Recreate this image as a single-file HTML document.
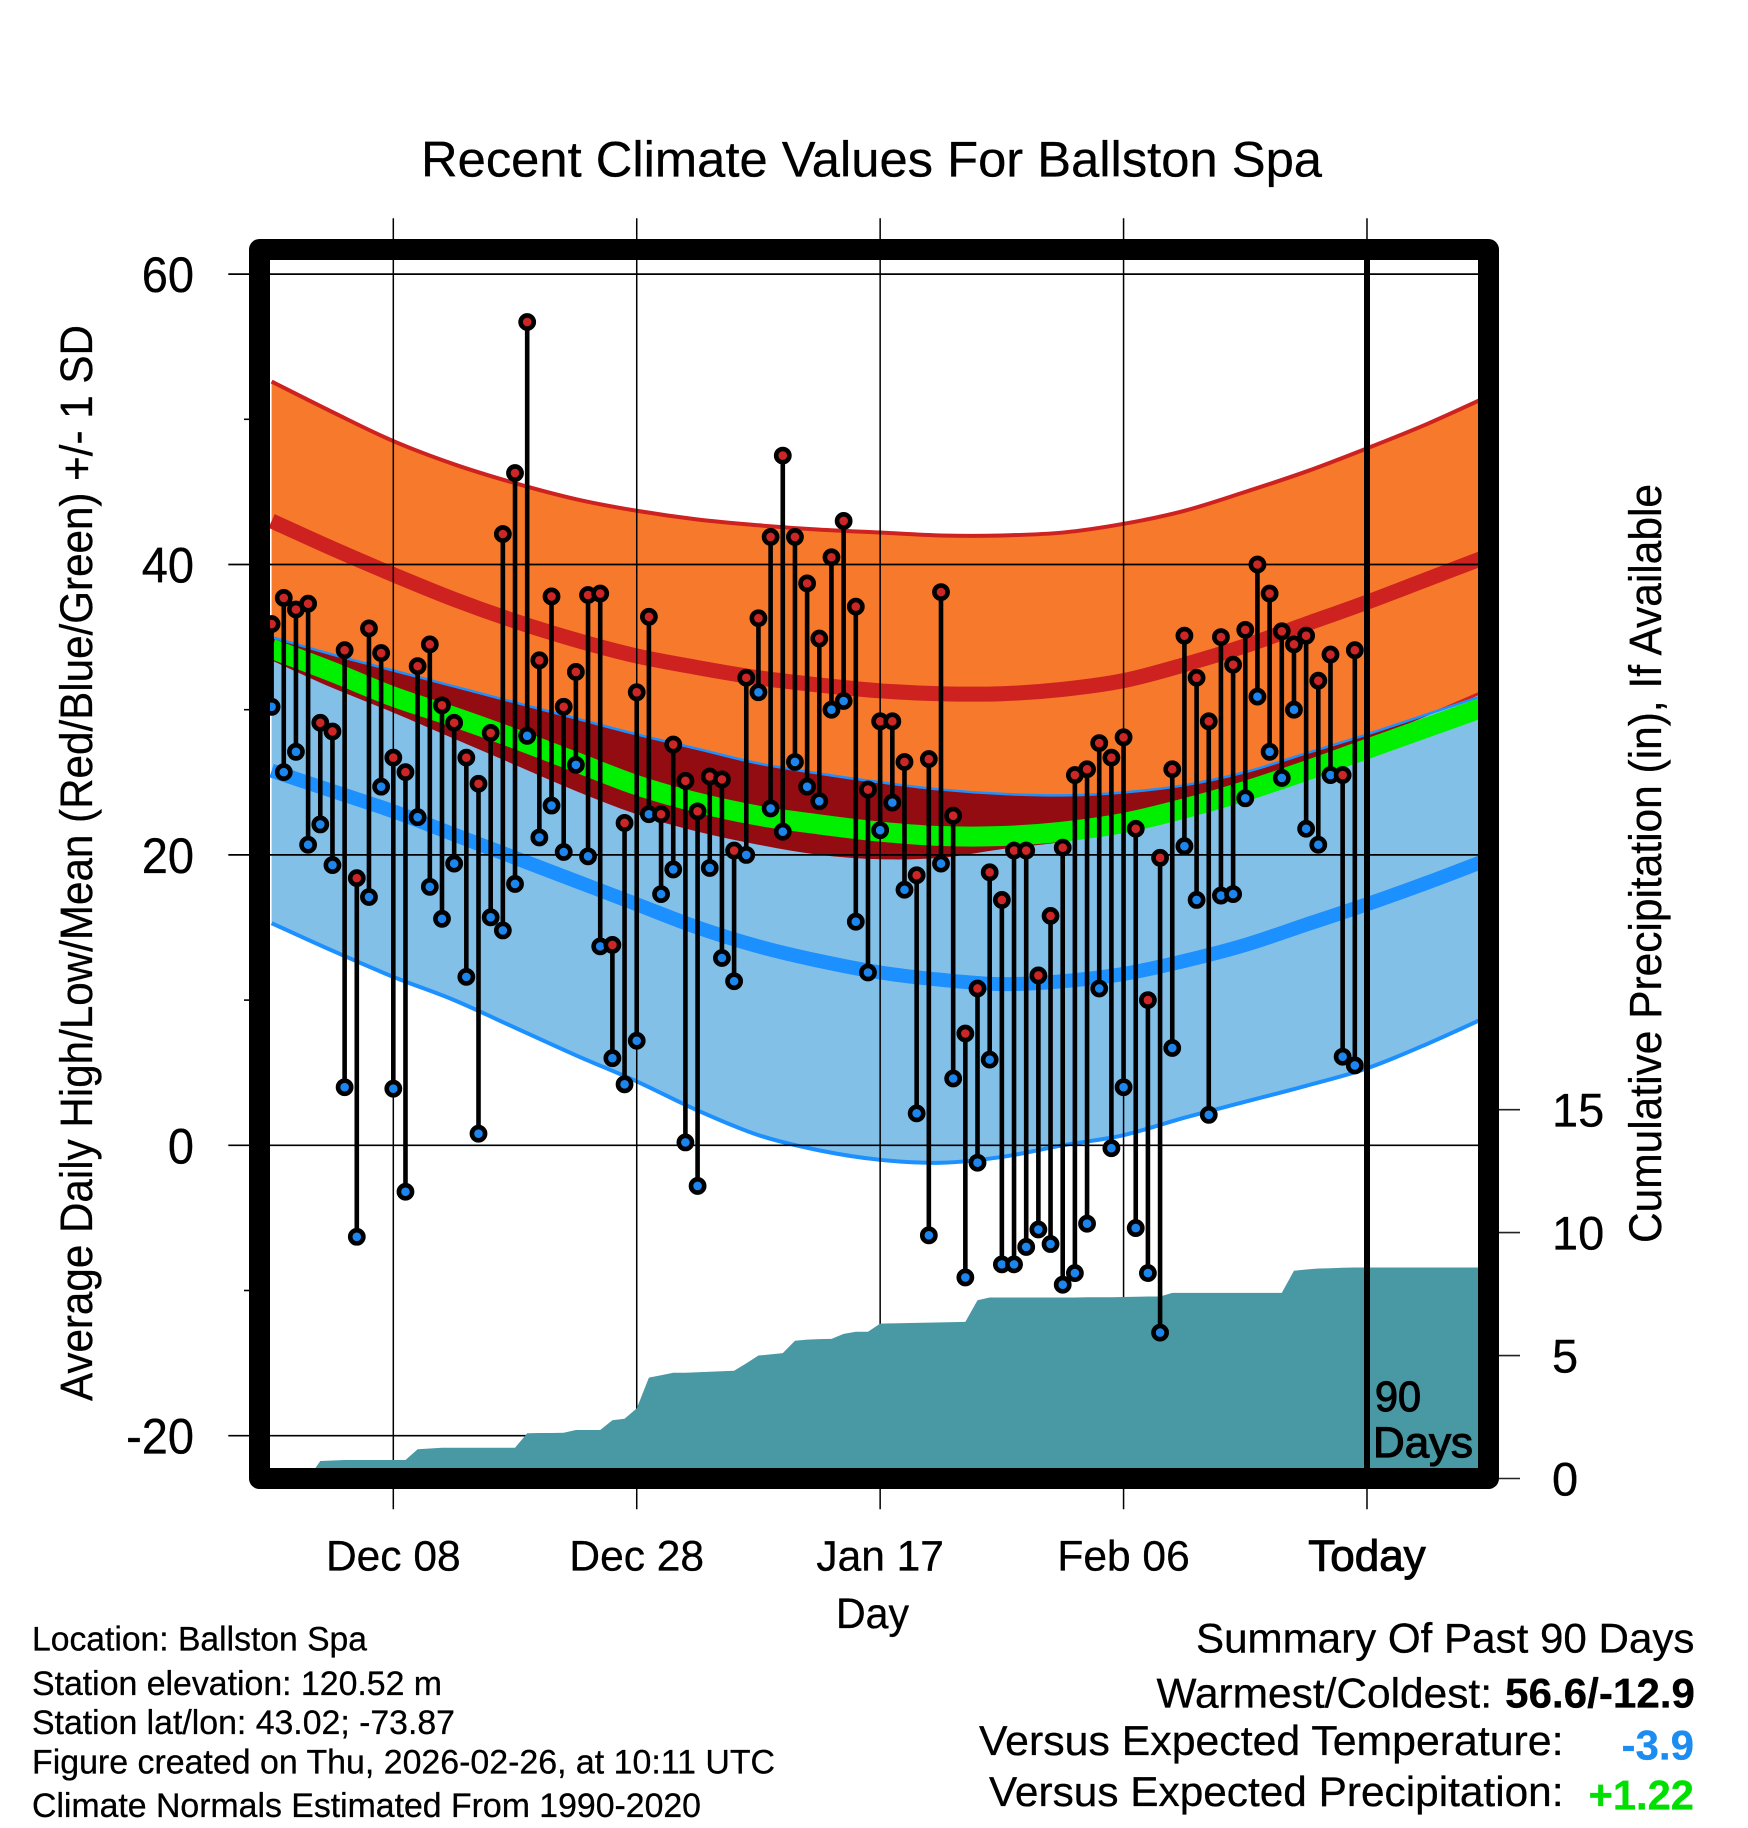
<!DOCTYPE html>
<html lang="en">
<head>
<meta charset="utf-8">
<title>Recent Climate Values For Ballston Spa</title>
<style>
html,body{margin:0;padding:0;background:#fff;}
svg{display:block;}
text{font-family:"Liberation Sans",Arial,sans-serif;fill:#000;stroke:#000;stroke-width:0.3;}
</style>
</head>
<body>
<svg id="chart" xmlns="http://www.w3.org/2000/svg" width="1748" height="1828" viewBox="0 0 1748 1828">
  <rect x="0" y="0" width="1748" height="1828" fill="#fff"/>
  <defs>
    <clipPath id="plot-clip"><rect x="270" y="260" width="1208.5" height="1208.5"/></clipPath>
    <clipPath id="low-band-clip"><path id="low-band-clip-path" d=""/></clipPath>
  </defs>

  <g id="fills" clip-path="url(#plot-clip)"></g>
  <g id="grid"></g>
  <g id="precip" clip-path="url(#plot-clip)"></g>
  <g id="marks"></g>
  <line x1="1367" x2="1367" y1="255" y2="1472" stroke="#000" stroke-width="6"/>
  <rect x="259.5" y="249.5" width="1229" height="1229" fill="none" stroke="#000" stroke-width="21" stroke-linejoin="round"/>
  <g id="labels"></g>

  <text x="421" y="176.5" font-size="50" textLength="901" lengthAdjust="spacingAndGlyphs">Recent Climate Values For Ballston Spa</text>
  <text transform="translate(92,1401) rotate(-90)" font-size="45" textLength="1076" lengthAdjust="spacingAndGlyphs">Average Daily High/Low/Mean (Red/Blue/Green) +/- 1 SD</text>
  <text transform="translate(1661,1243) rotate(-90)" font-size="45" textLength="759" lengthAdjust="spacingAndGlyphs">Cumulative Precipitation (in), If Available</text>
  <text x="836" y="1628" font-size="43" textLength="73" lengthAdjust="spacingAndGlyphs">Day</text>

  <text x="1375" y="1411" font-size="43" style="stroke-width:1.2" textLength="46" lengthAdjust="spacingAndGlyphs">90</text>
  <text x="1373" y="1457" font-size="43" style="stroke-width:1.2" textLength="100" lengthAdjust="spacingAndGlyphs">Days</text>

  <text x="32" y="1650.7" font-size="34" textLength="335" lengthAdjust="spacingAndGlyphs">Location: Ballston Spa</text>
  <text x="32" y="1695" font-size="34" textLength="410" lengthAdjust="spacingAndGlyphs">Station elevation: 120.52 m</text>
  <text x="32" y="1734" font-size="34" textLength="423" lengthAdjust="spacingAndGlyphs">Station lat/lon: 43.02; -73.87</text>
  <text x="32" y="1773.3" font-size="34" textLength="743" lengthAdjust="spacingAndGlyphs">Figure created on Thu, 2026-02-26, at 10:11 UTC</text>
  <text x="32" y="1817" font-size="34" textLength="669" lengthAdjust="spacingAndGlyphs">Climate Normals Estimated From 1990-2020</text>

  <text x="1196" y="1652.7" font-size="42" textLength="498.5" lengthAdjust="spacingAndGlyphs">Summary Of Past 90 Days</text>
  <text x="1156.5" y="1707.7" font-size="42" textLength="335.5" lengthAdjust="spacingAndGlyphs">Warmest/Coldest:</text>
  <text x="1505" y="1707.7" font-size="42" font-weight="700" textLength="190" lengthAdjust="spacingAndGlyphs">56.6/-12.9</text>
  <text x="979" y="1755" font-size="42" textLength="584.5" lengthAdjust="spacingAndGlyphs">Versus Expected Temperature:</text>
  <text x="1621.5" y="1759.3" font-size="42" font-weight="700" style="fill:#1C8CF0;stroke:#1C8CF0" textLength="72.5" lengthAdjust="spacingAndGlyphs">-3.9</text>
  <text x="989" y="1806" font-size="42" textLength="574.5" lengthAdjust="spacingAndGlyphs">Versus Expected Precipitation:</text>
  <text x="1588.5" y="1809.3" font-size="42" font-weight="700" style="fill:#00E000;stroke:#00E000" textLength="105.5" lengthAdjust="spacingAndGlyphs">+1.22</text>
</svg>

<script>
// Daily observed temperature extremes (degrees F), one value per day.
const dailyHighs = [35.9,37.7,36.9,37.3,29.1,28.5,34.1,18.4,35.6,33.9,26.7,25.7,33.0,34.5,30.3,29.1,26.7,24.9,28.4,42.1,46.3,56.7,33.4,37.8,30.2,32.6,37.9,38.0,13.8,22.2,31.2,36.4,22.8,27.6,25.1,23.0,25.4,25.2,20.3,32.2,36.3,41.9,47.5,41.9,38.7,34.9,40.5,43.0,37.1,24.5,29.2,29.2,26.4,18.6,26.6,38.1,22.7,7.7,10.8,18.8,16.9,20.3,20.3,11.7,15.8,20.5,25.5,25.9,27.7,26.7,28.1,21.8,10.0,19.8,25.9,35.1,32.2,29.2,35.0,33.1,35.5,40.0,38.0,35.4,34.5,35.1,32.0,33.8,25.5,34.1];
const dailyLows = [30.2,25.7,27.1,20.7,22.1,19.3,4.0,-6.3,17.1,24.7,3.9,-3.2,22.6,17.8,15.6,19.4,11.6,0.8,15.7,14.8,18.0,28.2,21.2,23.4,20.2,26.2,19.9,13.7,6.0,4.2,7.2,22.8,17.3,19.0,0.2,-2.8,19.1,12.9,11.3,20.0,31.2,23.2,21.6,26.4,24.7,23.7,30.0,30.6,15.4,11.9,21.7,23.6,17.6,2.2,-6.2,19.4,4.6,-9.1,-1.2,5.9,-8.2,-8.2,-7.0,-5.8,-6.8,-9.6,-8.8,-5.4,10.8,-0.2,4.0,-5.7,-8.8,-12.9,6.7,20.6,16.9,2.1,17.2,17.3,23.9,30.9,27.1,25.3,30.0,21.8,20.7,25.5,6.1,5.5];

// Climate normals read every five days.
const normalDays = [0,5,10,15,20,25,30,35,40,45,50,55,60,65,70,75,80,85,90,95,100];
const highPlusSd = [52.6,50.5,48.5,46.9,45.6,44.5,43.7,43.1,42.7,42.4,42.2,42.0,42.0,42.2,42.8,43.7,45.0,46.4,48.0,49.7,51.6];
const highMean = [43.0,41.1,39.3,37.6,36.1,34.8,33.7,32.9,32.2,31.7,31.3,31.1,31.1,31.4,32.0,33.1,34.4,35.9,37.4,39.0,40.6];
const highMinusSd = [33.4,31.5,29.8,28.0,26.2,24.4,22.8,21.6,20.7,20.0,19.7,19.8,20.4,20.9,21.7,22.8,24.1,25.7,27.8,29.6,31.4];
const meanMean = [34.2,32.6,30.9,29.5,28.0,26.4,24.8,23.6,22.7,22.1,21.6,21.3,21.3,21.6,22.2,23.2,24.4,25.8,27.3,28.8,30.3];
const lowPlusSd = [35.0,33.8,32.7,31.6,30.5,29.4,28.3,27.3,26.3,25.6,25.0,24.5,24.2,24.1,24.3,24.8,25.7,27.0,28.3,29.7,31.1];
const lowMean = [25.8,24.4,23.0,21.4,19.8,18.2,16.6,15.0,13.7,12.7,11.9,11.4,11.1,11.3,11.8,12.7,13.8,15.2,16.6,18.1,19.7];
const lowMinusSd = [15.3,13.4,11.6,10.0,8.1,6.2,4.4,2.4,0.7,-0.35,-1.0,-1.2,-0.8,0.0,0.7,1.9,3.0,4.1,5.3,7.0,8.9];

// Cumulative precipitation (inches), one value per day.
const cumulativePrecip = [0,0,0,0,0.71,0.73,0.75,0.75,0.75,0.75,0.75,0.75,1.19,1.22,1.25,1.25,1.25,1.25,1.25,1.25,1.25,1.84,1.85,1.85,1.86,1.97,1.97,1.97,2.37,2.43,2.85,4.1,4.2,4.3,4.3,4.32,4.34,4.36,4.38,4.68,5.0,5.05,5.1,5.6,5.65,5.67,5.68,5.88,5.97,5.97,6.3,6.31,6.32,6.33,6.34,6.35,6.36,6.37,7.25,7.36,7.36,7.36,7.36,7.36,7.36,7.36,7.36,7.37,7.37,7.37,7.38,7.39,7.4,7.4,7.55,7.55,7.55,7.55,7.55,7.55,7.55,7.55,7.55,7.55,8.45,8.5,8.54,8.55,8.57,8.58];

// Axis ticks.
const xTickDays = [10,30,50,70,90];
const xTickLabels = ['Dec 08','Dec 28','Jan 17','Feb 06','Today'];
const tempTicks = [60,40,20,0,-20];
const tempMinorTicks = [50,30,10,-10];
const precipTicks = [0,5,10,15];

// Axis functions.
const SVG_NS = 'http://www.w3.org/2000/svg';
function xDay(d){ return 271.6 + 12.171 * d; }
function yTemp(v){ return 1145.3 - 14.52 * v; }
function yPrecip(p){ return 1478.5 - 24.59 * p; }

function make(tag, attrs, parent){
  const el = document.createElementNS(SVG_NS, tag);
  for (const k in attrs) el.setAttribute(k, attrs[k]);
  parent.appendChild(el);
  return el;
}
function splineSegments(xs, ys){
  let d = '';
  for (let i = 0; i < xs.length - 1; i++){
    const a = Math.max(i - 1, 0), c = i + 1, e = Math.min(i + 2, xs.length - 1);
    const c1x = xs[i] + (xs[c] - xs[a]) / 6, c1y = ys[i] + (ys[c] - ys[a]) / 6;
    const c2x = xs[c] - (xs[e] - xs[i]) / 6, c2y = ys[c] - (ys[e] - ys[i]) / 6;
    d += ' C' + c1x.toFixed(2) + ' ' + c1y.toFixed(2) + ' ' + c2x.toFixed(2) + ' ' + c2y.toFixed(2) + ' ' + xs[c].toFixed(2) + ' ' + ys[c].toFixed(2);
  }
  return d;
}
function curvePath(values){
  const xs = normalDays.map(xDay), ys = values.map(yTemp);
  return 'M' + xs[0].toFixed(2) + ' ' + ys[0].toFixed(2) + splineSegments(xs, ys);
}
function bandPath(upper, lower){
  const xs = normalDays.map(xDay);
  const yu = upper.map(yTemp);
  const xr = xs.slice().reverse();
  const yl = lower.map(yTemp).reverse();
  return 'M' + xs[0].toFixed(2) + ' ' + yu[0].toFixed(2) + splineSegments(xs, yu) +
    ' L' + xr[0].toFixed(2) + ' ' + yl[0].toFixed(2) + splineSegments(xr, yl) + ' Z';
}

const fills = document.getElementById('fills');
const grid = document.getElementById('grid');
const precip = document.getElementById('precip');
const marks = document.getElementById('marks');
const labels = document.getElementById('labels');

// Bands.
const highBandD = bandPath(highPlusSd, highMinusSd);
const lowBandD = bandPath(lowPlusSd, lowMinusSd);
document.getElementById('low-band-clip-path').setAttribute('d', lowBandD);

const highBand = make('path', {d: highBandD, fill: '#F7792B'}, fills);



const highLowerLine = make('path', {d: curvePath(highMinusSd), fill: 'none', stroke: '#CE2220', 'stroke-width': 3}, fills);



const lowBand = make('path', {d: lowBandD, fill: '#83C0E8'}, fills);



const overlapBand = make('path', {d: highBandD, fill: '#930C12', 'clip-path': 'url(#low-band-clip)'}, fills);



const highUpperLine = make('path', {d: curvePath(highPlusSd), fill: 'none', stroke: '#CE2220', 'stroke-width': 4}, fills);



const highMeanLine = make('path', {d: curvePath(highMean), fill: 'none', stroke: '#CE2220', 'stroke-width': 15}, fills);



const lowUpperLine = make('path', {d: curvePath(lowPlusSd), fill: 'none', stroke: '#1C90FF', 'stroke-width': 2.5}, fills);



const meanMeanLine = make('path', {d: curvePath(meanMean), fill: 'none', stroke: '#00F000', 'stroke-width': 20}, fills);



const lowMeanLine = make('path', {d: curvePath(lowMean), fill: 'none', stroke: '#1C90FF', 'stroke-width': 14}, fills);



const lowLowerLine = make('path', {d: curvePath(lowMinusSd), fill: 'none', stroke: '#1C90FF', 'stroke-width': 4}, fills);



// Gridlines, ticks and tick labels.
tempTicks.forEach(function(v){
  const gl = make('line', {x1: 228.3, x2: 1478, y1: yTemp(v), y2: yTemp(v), stroke: '#000', 'stroke-width': 1.7}, grid);
  
  
  const labelText = String(v);
  const naturalWidth = 47 * (Math.abs(v) >= 10 ? 1.112 : 0.556) + (v < 0 ? 47 * 0.333 : 0);
  const tl = make('text', {x: 194 - naturalWidth, y: yTemp(v) + 18, 'font-size': 50, textLength: naturalWidth.toFixed(1), lengthAdjust: 'spacingAndGlyphs'}, labels);
  
  
  tl.textContent = labelText;
});
tempMinorTicks.forEach(function(v){
  const mt = make('line', {x1: 244, x2: 252, y1: yTemp(v), y2: yTemp(v), stroke: '#000', 'stroke-width': 1.6}, grid);
  
  
});
xTickDays.forEach(function(d, i){
  const gl = make('line', {x1: xDay(d), x2: xDay(d), y1: 218.3, y2: 1509.3, stroke: '#000', 'stroke-width': 1.5}, grid);
  
  
  const isToday = xTickLabels[i] === 'Today';
  const tl = make('text', {x: xDay(d), y: 1570.7, 'font-size': isToday ? 44 : 42.5, 'text-anchor': 'middle'}, labels);
  if (isToday){ tl.setAttribute('style', 'stroke-width:1'); }
  
  
  tl.textContent = xTickLabels[i];
});
precipTicks.forEach(function(p){
  const t = make('line', {x1: 1499, x2: 1520, y1: yPrecip(p), y2: yPrecip(p), stroke: '#222', 'stroke-width': 1.6}, grid);
  
  
  const tl = make('text', {x: 1552, y: yPrecip(p) + 17, 'font-size': 47}, labels);
  
  
  tl.textContent = String(p);
});

// Precipitation area.
let precipD = 'M' + xDay(0).toFixed(2) + ' ' + yPrecip(0).toFixed(2);
cumulativePrecip.forEach(function(p, i){
  precipD += ' L' + xDay(i).toFixed(2) + ' ' + yPrecip(p).toFixed(2);
});
const lastPrecip = cumulativePrecip[cumulativePrecip.length - 1];
precipD += ' L1479 ' + yPrecip(lastPrecip).toFixed(2) + ' L1479 ' + yPrecip(0).toFixed(2) + ' Z';
const precipArea = make('path', {d: precipD, fill: '#4899A4'}, precip);



// Daily high/low stems and markers.
dailyHighs.forEach(function(h, i){
  const l = dailyLows[i];
  const x = xDay(i);
  const stem = make('line', {x1: x, x2: x, y1: yTemp(h), y2: yTemp(l), stroke: '#000', 'stroke-width': 4.6}, marks);
  
  
  const lowDot = make('circle', {cx: x, cy: yTemp(l), r: 6.6, fill: '#1C86EE', stroke: '#000', 'stroke-width': 4.6}, marks);
  
  
  const highDot = make('circle', {cx: x, cy: yTemp(h), r: 6.6, fill: '#CD2626', stroke: '#000', 'stroke-width': 4.6}, marks);
  
  
});
</script>
</body>
</html>
